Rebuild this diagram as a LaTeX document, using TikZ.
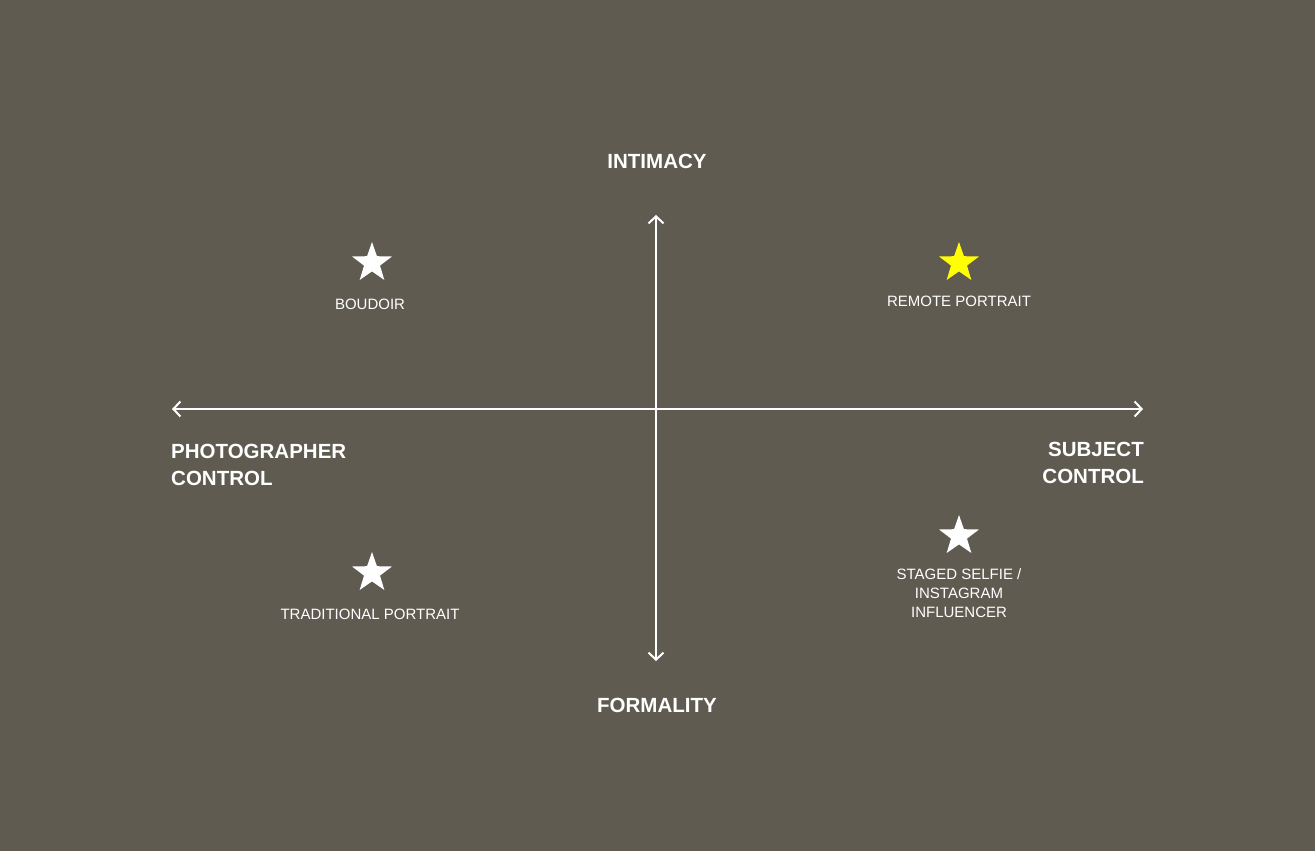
\documentclass[tikz,border=0pt]{standalone}
\usepackage{fontspec}
\setmainfont{Liberation Sans}
\usetikzlibrary{shapes.geometric,arrows.meta}
\definecolor{bg}{HTML}{5F5B50}
\definecolor{staryellow}{HTML}{FFFF00}
\begin{document}
\begin{tikzpicture}[x=1pt,y=-1pt,
  axis/.style={draw=white,line width=2.6pt,{Straight Barb[length=7pt,width=15pt,line width=2pt]}-{Straight Barb[length=7pt,width=15pt,line width=2pt]}},
  axislabel/.style={text=white,font=\fontsize{20.5}{27}\selectfont\bfseries,inner sep=0pt,align=center},
  itemlabel/.style={text=white,font=\fontsize{15}{19}\selectfont,inner sep=0pt,align=center},
  starmark/.style={star,star points=5,star point ratio=2.5,minimum size=42pt,inner sep=0pt,draw=none,fill=#1}]
\fill[bg] (0,0) rectangle (1315,851);
\useasboundingbox (0,0) rectangle (1315,851);
\coordinate (hl) at (172,409);
\coordinate (hr) at (1143,409);
\coordinate (vt) at (656,215);
\coordinate (vb) at (656,661);
\draw[axis] (hl) -- (hr);
\draw[axis] (vb) -- (vt);
\node[axislabel] (intimacy) at (657,161) {INTIMACY};
\node[axislabel] (formality) at (657,705) {FORMALITY};
\node[axislabel,anchor=west,align=left] (photo) at (171,464.5) {PHOTOGRAPHER\\CONTROL};
\node[axislabel,anchor=east,align=right] (subject) at (1144,462.5) {SUBJECT\\CONTROL};
\node[starmark=white] (s1) at (372,263) {};
\node[starmark=staryellow] (s2) at (959,263) {};
\node[starmark=white] (s3) at (372,573) {};
\node[starmark=white] (s4) at (959,536) {};
\node[itemlabel] (l1) at (370,304) {BOUDOIR};
\node[itemlabel] (l2) at (959,301) {REMOTE PORTRAIT};
\node[itemlabel] (l3) at (370,614) {TRADITIONAL PORTRAIT};
\node[itemlabel] (l4) at (959,593) {STAGED SELFIE /\\INSTAGRAM\\INFLUENCER};
\end{tikzpicture}
\end{document}
